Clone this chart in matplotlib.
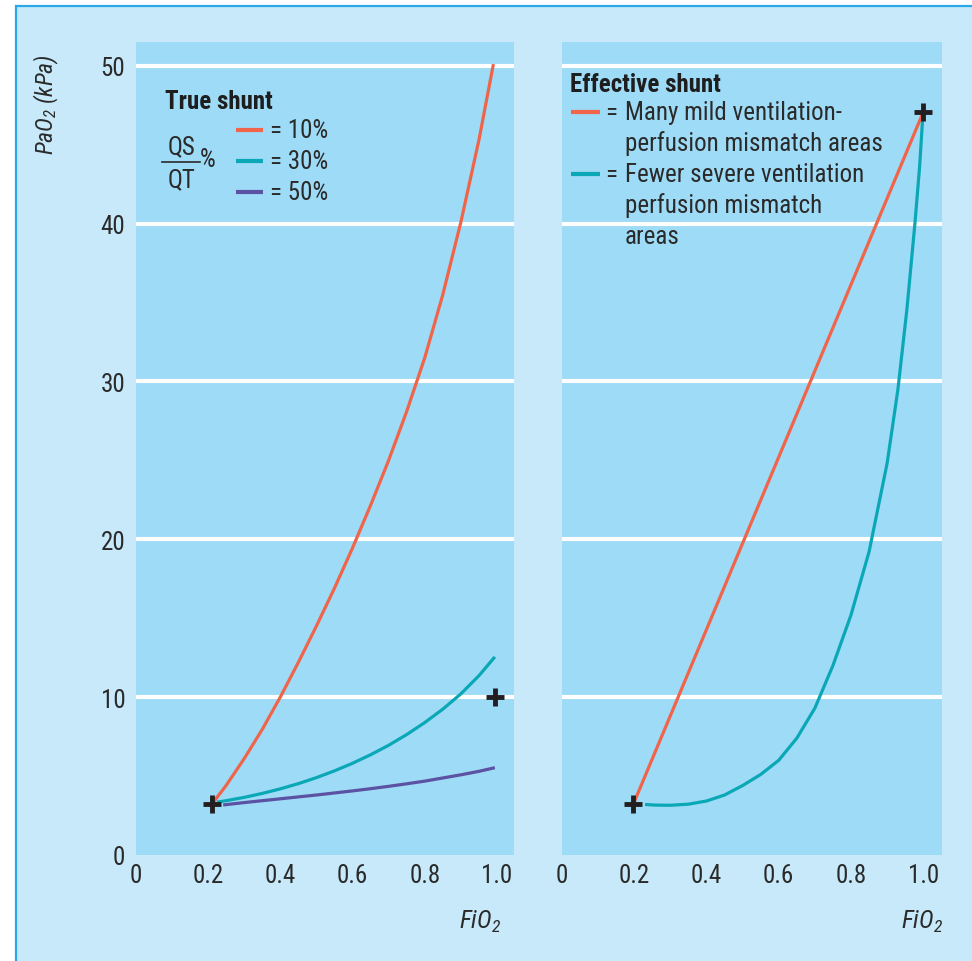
import matplotlib
matplotlib.use("Agg")
from matplotlib import pyplot as plt
from matplotlib import font_manager
from matplotlib.patches import Rectangle

# pick a condensed sans if one is installed
names = {f.name for f in font_manager.fontManager.ttflist}
font = "Liberation Sans"
fs = 16
for cand in ["Liberation Sans Narrow", "Roboto Condensed", "Open Sans Condensed",
             "Arial Narrow"]:
    if cand in names:
        font = cand
        fs = 18
        break
plt.rcParams["font.family"] = [font, "DejaVu Sans"]
plt.rcParams["mathtext.fontset"] = "custom"
plt.rcParams["mathtext.rm"] = font + ":italic"
plt.rcParams["mathtext.it"] = font + ":italic"

# ---- data ----
# left panel: true shunt (QS/QT)
shunt_labels = ["10%", "30%", "50%"]
fio2_10 = [0.21, 0.25, 0.30, 0.35, 0.40, 0.45, 0.50, 0.55, 0.60, 0.65, 0.70,
           0.75, 0.80, 0.85, 0.90, 0.95, 0.99]
pao2_10 = [3.2, 4.4, 6.1, 7.95, 10.0, 12.2, 14.5, 16.9, 19.45, 22.15, 25.0,
           28.1, 31.5, 35.5, 40.1, 45.3, 50.1]
fio2_30 = [0.225, 0.25, 0.30, 0.35, 0.40, 0.45, 0.50, 0.55, 0.60, 0.65, 0.70,
           0.75, 0.80, 0.85, 0.90, 0.95, 0.994]
pao2_30 = [3.35, 3.44, 3.65, 3.9, 4.19, 4.52, 4.90, 5.33, 5.81, 6.35, 6.95,
           7.63, 8.39, 9.24, 10.21, 11.36, 12.55]
fio2_50 = [0.242, 0.30, 0.35, 0.40, 0.45, 0.50, 0.55, 0.60, 0.65, 0.70, 0.75,
           0.80, 0.85, 0.90, 0.95, 0.994]
pao2_50 = [3.17, 3.32, 3.44, 3.56, 3.68, 3.80, 3.93, 4.06, 4.20, 4.35, 4.51,
           4.68, 4.88, 5.08, 5.30, 5.53]
left_marks_x = [0.21, 0.995]
left_marks_y = [3.2, 10.0]

# right panel: effective shunt
eff_labels = ["Many mild ventilation-\nperfusion mismatch areas",
              "Fewer severe ventilation\nperfusion mismatch\nareas"]
fio2_mild = [0.197, 1.0]
pao2_mild = [3.2, 47.05]
fio2_severe = [0.23, 0.26, 0.30, 0.35, 0.40, 0.45, 0.50, 0.55, 0.60, 0.65,
               0.70, 0.75, 0.80, 0.85, 0.90, 0.93, 0.955, 0.977, 0.99, 0.998]
pao2_severe = [3.2, 3.16, 3.15, 3.22, 3.42, 3.8, 4.4, 5.1, 6.0, 7.4,
               9.3, 12.0, 15.2, 19.2, 24.8, 29.5, 34.6, 40.0, 43.6, 46.5]
right_marks_x = [0.197, 1.0]
right_marks_y = [3.2, 47.05]

x_ticks = [0, 0.2, 0.4, 0.6, 0.8, 1.0]
x_ticklabels = ["0", "0.2", "0.4", "0.6", "0.8", "1.0"]
y_ticks = [0, 10, 20, 30, 40, 50]

# ---- styling ----
red = "#f0654a"
teal = "#0aa8b6"
purple = "#5b52a3"
panel_bg = "#9edbf6"
outer_bg = "#c7e9f9"
txt = "#2a2a2a"

fig = plt.figure(figsize=(9.72, 9.62), dpi=100)
fig.patch.set_facecolor("white")
fig.patches.append(Rectangle((16 / 972, -0.1), 1.2, 1.1 - 7 / 962,
                             transform=fig.transFigure, facecolor=outer_bg,
                             edgecolor="#2aa7e6", linewidth=1.6, zorder=-5))

ax1 = fig.add_axes([135.75 / 972, 106 / 962, 378.25 / 972, 813 / 962])
ax2 = fig.add_axes([562 / 972, 106 / 962, 380 / 972, 813 / 962])

for ax in (ax1, ax2):
    ax.set_facecolor(panel_bg)
    for s in ax.spines.values():
        s.set_visible(False)
    ax.set_xlim(0, 1.047)
    ax.set_ylim(0, 51.5)
    ax.set_xticks(x_ticks)
    ax.set_xticklabels(x_ticklabels)
    ax.set_xticks(x_ticks[1:], minor=True)
    ax.tick_params(axis="x", which="major", length=0, pad=6, labelsize=fs,
                   labelcolor=txt)
    ax.tick_params(axis="x", which="minor", direction="in", length=9.5,
                   width=2.4, color="white")
    ax.set_yticks(y_ticks)
    ax.grid(axis="y", color="white", linewidth=3)
    ax.get_ygridlines()[0].set_visible(False)
    ax.set_axisbelow(True)

ax1.tick_params(axis="y", length=0, pad=7.5, labelsize=fs, labelcolor=txt)
ax2.tick_params(axis="y", length=0, labelleft=False)
ax2.set_xlim(0, 1.052)

# left curves
lw = 2.3
ax1.plot(fio2_10, pao2_10, color=red, lw=lw, solid_capstyle="butt")
ax1.plot(fio2_30, pao2_30, color=teal, lw=lw, solid_capstyle="butt")
ax1.plot(fio2_50, pao2_50, color=purple, lw=lw, solid_capstyle="butt")
ax1.plot(left_marks_x, left_marks_y, ls="none", marker="+", ms=13, mew=3.5,
         color="#231f20", zorder=5)

# right curves
ax2.plot(fio2_mild, pao2_mild, color=red, lw=lw, solid_capstyle="butt")
ax2.plot(fio2_severe, pao2_severe, color=teal, lw=lw, solid_capstyle="butt")
ax2.plot(right_marks_x, right_marks_y, ls="none", marker="+", ms=13, mew=3.5,
         color="#231f20", zorder=5)

# left legend
ax1.text(0.077, 0.928, "True shunt", transform=ax1.transAxes, fontsize=fs,
         fontweight="bold", color="#1e1e1e", va="center", ha="left")
for i, (lab, c) in enumerate(zip(shunt_labels, [red, teal, purple])):
    yy = 0.892 - i * 0.038
    ax1.plot([0.265, 0.336], [yy, yy], transform=ax1.transAxes, color=c,
             lw=3, solid_capstyle="butt")
    ax1.text(0.355, yy, "= " + lab, transform=ax1.transAxes, fontsize=fs,
             color=txt, va="center", ha="left")
ax1.text(0.12, 0.872, "QS", transform=ax1.transAxes, fontsize=fs, color=txt,
         va="center", ha="center")
ax1.plot([0.07, 0.17], [0.852, 0.852], transform=ax1.transAxes,
         color=txt, lw=1.2)
ax1.text(0.12, 0.831, "QT", transform=ax1.transAxes, fontsize=fs, color=txt,
         va="center", ha="center")
ax1.text(0.19, 0.856, "%", transform=ax1.transAxes, fontsize=fs, color=txt,
         va="center", ha="center")

# right legend
ax2.text(0.021, 0.948, "Effective shunt", transform=ax2.transAxes,
         fontsize=fs, fontweight="bold", color="#1e1e1e", va="center",
         ha="left")
step = 31 / 813
yy = 0.914
for lab, c in zip(eff_labels, [red, teal]):
    ax2.plot([0.024, 0.100], [yy, yy], transform=ax2.transAxes, color=c,
             lw=3, solid_capstyle="butt")
    ax2.text(0.114, yy, "=", transform=ax2.transAxes, fontsize=fs,
             color=txt, va="center", ha="left")
    for line in lab.split("\n"):
        ax2.text(0.166, yy, line, transform=ax2.transAxes, fontsize=fs,
                 color=txt, va="center", ha="left")
        yy -= step

# axis labels
fig.text(46 / 972, 1 - 105 / 962, "PaO$_2$ (kPa)", rotation=90,
         fontsize=fs - 1, style="italic", color=txt, ha="center",
         va="center")
fig.text(480 / 972, 1 - 922 / 962, "FiO$_2$", fontsize=fs, style="italic",
         color=txt, ha="center", va="center")
fig.text(922 / 972, 1 - 922 / 962, "FiO$_2$", fontsize=fs, style="italic",
         color=txt, ha="center", va="center")

fig.savefig("out.png", dpi=100, facecolor=fig.get_facecolor())
